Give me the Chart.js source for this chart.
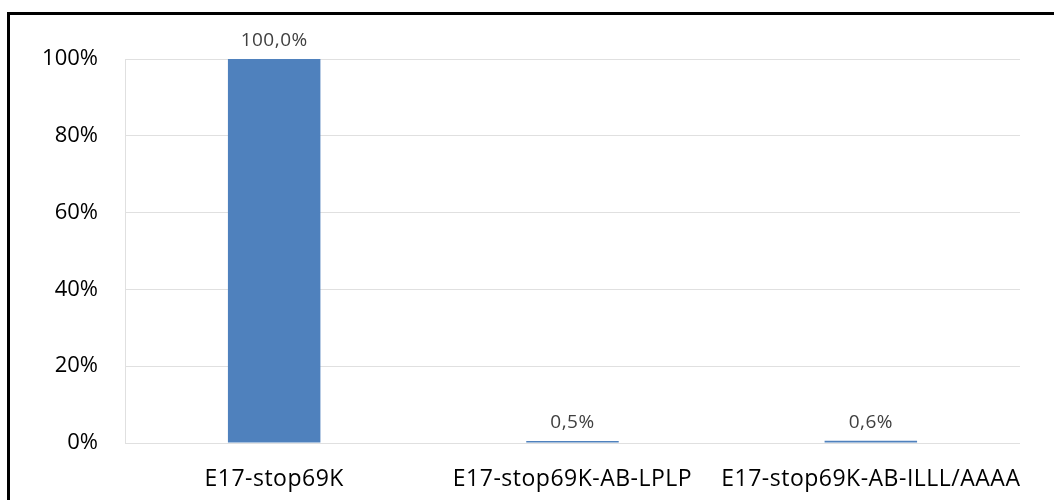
<!DOCTYPE html>
<html>
<head>
<meta charset="utf-8">
<script src="https://cdn.jsdelivr.net/npm/chart.js@4.4.0/dist/chart.umd.min.js"></script>
<style>
  html, body { margin: 0; padding: 0; background: #fff; }
  #wrap { position: relative; width: 1054px; height: 500px; overflow: hidden; }
  #frame {
    position: absolute; left: 7px; top: 12px; width: 1200px; height: 600px;
    border-top: 3px solid #000; border-left: 3px solid #000;
  }
  canvas { position: absolute; left: 0; top: 0; }
</style>
</head>
<body>
<div id="wrap">
  <div id="frame"></div>
  <canvas id="chart" width="1054" height="500"></canvas>
</div>
<script>
const categories = ['E17-stop69K', 'E17-stop69K-AB-LPLP', 'E17-stop69K-AB-ILLL/AAAA'];
const values = [100, 0.5, 0.6];
const yTicks = [0, 20, 40, 60, 80, 100];

const FONT = '"Open Sans", "Liberation Sans", sans-serif';

// Value labels above each bar, decimal comma.
const valueLabels = {
  id: 'valueLabels',
  afterDatasetsDraw(chart) {
    const { ctx } = chart;
    const meta = chart.getDatasetMeta(0);
    ctx.save();
    ctx.font = `19px ${FONT}`;
    ctx.letterSpacing = '0.5px';
    ctx.fillStyle = '#404040';
    ctx.textAlign = 'center';
    ctx.textBaseline = 'alphabetic';
    meta.data.forEach((bar, i) => {
      const text = values[i].toFixed(1).replace('.', ',') + '%';
      ctx.fillText(text, bar.x, bar.y - 13);
    });
    ctx.restore();
  },
};

// Category labels are set a little wider than the font's default spacing.
function spaceLabels(scale) {
  if (scale._spaced) return;
  const draw = scale.drawLabels.bind(scale);
  scale.drawLabels = (area) => {
    scale.ctx.save();
    scale.ctx.letterSpacing = '0.5px';
    draw(area);
    scale.ctx.restore();
  };
  scale._spaced = true;
}

new Chart(document.getElementById('chart').getContext('2d'), {
  type: 'bar',
  data: {
    labels: categories,
    datasets: [{
      data: values,
      backgroundColor: '#4f81bd',
      borderWidth: 0,
      categoryPercentage: 1,
      barPercentage: 0.31,
    }],
  },
  options: {
    responsive: false,
    animation: false,
    layout: { padding: { left: 10, right: 34, top: 59, bottom: 0 } },
    plugins: {
      legend: { display: false },
      tooltip: { enabled: false },
    },
    scales: {
      x: {
        grid: { display: false },
        border: { display: false },
        ticks: { color: '#000', font: { family: FONT, size: 23 }, padding: 15 },
        afterFit: (scale) => {
          scale.height = 57;
          spaceLabels(scale);
        },
      },
      y: {
        min: 0,
        max: 100,
        afterBuildTicks: (scale) => { scale.ticks = yTicks.map((v) => ({ value: v })); },
        grid: { color: '#e0e0e0', lineWidth: 1, drawTicks: false },
        border: { display: true, color: '#e0e0e0' },
        ticks: {
          color: '#000',
          font: { family: FONT, size: 22 },
          padding: 27,
          callback: (v) => `${v}%`,
        },
        afterFit: (scale) => { scale.width = 115; },
      },
    },
  },
  plugins: [valueLabels],
});
</script>
</body>
</html>
